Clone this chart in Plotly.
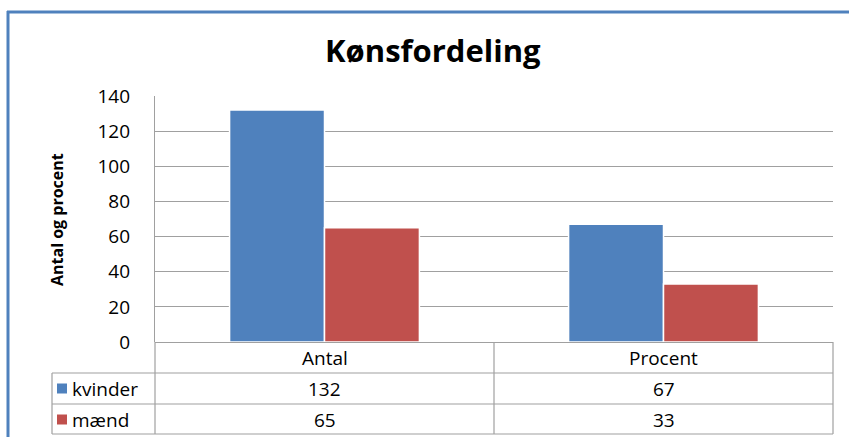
import plotly.graph_objects as go

categories = ["Antal", "Procent"]
series_names = ["kvinder", "mænd"]
kvinder = [132, 67]
maend = [65, 33]
series_values = [kvinder, maend]
colors = ["#4F81BD", "#C0504D"]
title_text = "Kønsfordeling"
y_title = "Antal og procent"
y_ticks = [0, 20, 40, 60, 80, 100, 120, 140]

W, H = 849, 437
L, R, T, B = 155, 833, 96, 342  # plot area in px
FONT = "Open Sans"


def px(xp):
    return (xp - L) / (R - L)


def py(yp):
    return (B - yp) / (B - T)


fig = go.Figure()
for name, vals, col in zip(series_names, series_values, colors):
    fig.add_trace(go.Bar(
        x=categories, y=vals, name=name,
        marker=dict(color=col, line=dict(color="white", width=1.5)),
        showlegend=False,
    ))

grid = "#A0A0A0"
shapes = []
row_lines = [373, 404, 434]
for yl in row_lines:
    shapes.append(dict(type="line", xref="paper", yref="paper",
                       x0=px(52), x1=1, y0=py(yl), y1=py(yl),
                       line=dict(color=grid, width=1.2)))
shapes.append(dict(type="line", xref="paper", yref="paper", x0=px(52), x1=px(52),
                   y0=py(373), y1=py(434), line=dict(color=grid, width=1.2)))
shapes.append(dict(type="line", xref="paper", yref="paper", x0=0, x1=0,
                   y0=py(342), y1=py(434), line=dict(color=grid, width=1.2)))
shapes.append(dict(type="line", xref="paper", yref="paper", x0=1, x1=1,
                   y0=py(342), y1=py(434), line=dict(color=grid, width=1.2)))
shapes.append(dict(type="line", xref="x", yref="paper", x0=0.5, x1=0.5,
                   y0=py(342), y1=py(434), line=dict(color=grid, width=1.2)))
for i, col in enumerate(colors):
    yc = (373 + 31 * i) + 15.5
    shapes.append(dict(type="rect", xref="paper", yref="paper",
                       x0=px(57), x1=px(67), y0=py(yc + 5), y1=py(yc - 5),
                       fillcolor=col, line=dict(width=0)))
shapes.append(dict(type="line", xref="paper", yref="paper", x0=px(8), x1=px(8),
                   y0=py(11), y1=py(440), line=dict(color="#4F81BD", width=3)))
shapes.append(dict(type="line", xref="paper", yref="paper", x0=px(7), x1=px(852),
                   y0=py(12), y1=py(12), line=dict(color="#4F81BD", width=3)))

annotations = []
TS = 19
for c in categories:
    annotations.append(dict(x=c, xref="x", y=py(357.5), yref="paper", text=c,
                            showarrow=False, font=dict(family=FONT, size=TS, color="#000"),
                            xanchor="center", yanchor="middle"))
for i, (name, vals) in enumerate(zip(series_names, series_values)):
    yc = (373 + 31 * i) + 15.5
    annotations.append(dict(x=px(70), xref="paper", y=py(yc), yref="paper", text=name,
                            showarrow=False, font=dict(family=FONT, size=TS, color="#000"),
                            xanchor="left", yanchor="middle"))
    for c, v in zip(categories, vals):
        annotations.append(dict(x=c, xref="x", y=py(yc), yref="paper", text=str(v),
                                showarrow=False, font=dict(family=FONT, size=TS, color="#000"),
                                xanchor="center", yanchor="middle"))
annotations.append(dict(x=px(57), xref="paper", y=py(219), yref="paper", text="<b>" + y_title + "</b>",
                        textangle=-90, showarrow=False,
                        font=dict(family=FONT, size=16, color="#000"),
                        xanchor="center", yanchor="middle"))
annotations.append(dict(x=px(433), xref="paper", y=py(50), yref="paper", text="<b>" + title_text + "</b>",
                        showarrow=False, font=dict(family=FONT, size=31, color="#000"),
                        xanchor="center", yanchor="middle"))

fig.update_layout(
    width=W, height=H,
    margin=dict(l=L, r=W - R, t=T, b=H - B, pad=0),
    paper_bgcolor="white", plot_bgcolor="white",
    barmode="group", bargap=0.44, bargroupgap=0.0,
    shapes=shapes, annotations=annotations,
    xaxis=dict(showticklabels=False, showgrid=False, zeroline=False, showline=False,
               range=[-0.5, 1.5], fixedrange=True),
    yaxis=dict(range=[0, 140], tickvals=y_ticks, showgrid=True, gridcolor=grid, gridwidth=1.2,
               zeroline=True, zerolinecolor=grid, zerolinewidth=1.2,
               showline=True, linecolor=grid, linewidth=1.2,
               ticks="", ticklabelstandoff=20,
               tickfont=dict(family=FONT, size=19, color="#000")),
)

fig.write_html("out.html", config={"displayModeBar": False},
               post_script="document.body.style.margin='0';document.body.style.overflow='hidden';")
